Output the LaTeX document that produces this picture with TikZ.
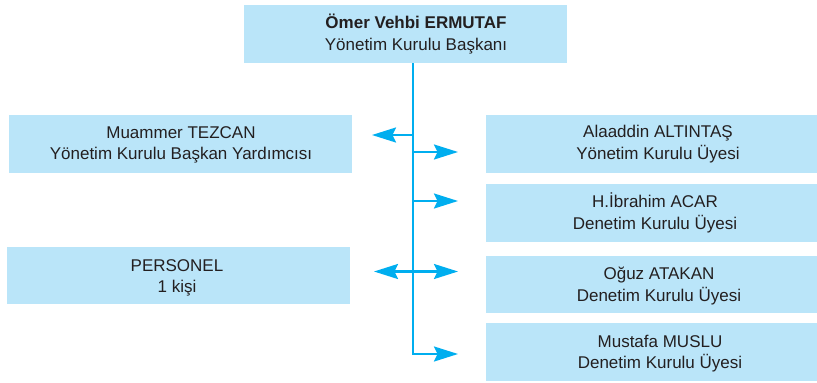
\documentclass[tikz,border=0pt]{standalone}
\usepackage{fontspec}
\setmainfont{Liberation Sans}
\usetikzlibrary{arrows.meta}
\definecolor{boxfill}{RGB}{186,229,249}
\definecolor{linecol}{RGB}{0,174,239}
\definecolor{txtcol}{RGB}{35,31,32}
\tikzset{
  orgbox/.style={rectangle, fill=boxfill, draw=none, inner sep=0pt, anchor=north west},
  orgtxt/.style={anchor=base, inner sep=0pt, text=txtcol, font=\fontsize{17}{21}\selectfont},
  orgbold/.style={orgtxt, font=\fontsize{17}{21}\selectfont\bfseries},
  trunk/.style={draw=linecol, line width=2.2pt},
  orgarrow/.style={draw=linecol, line width=2.2pt, -{Stealth[length=24pt,width=15pt,inset=3.5pt]}}
}
\begin{document}
\begin{tikzpicture}[x=1pt,y=-1pt]
\useasboundingbox (0,0) rectangle (817,383);
% boxes
\node[orgbox, minimum width=323pt, minimum height=58pt] (bTop) at (244,5) {};
\node[orgbox, minimum width=343pt, minimum height=58pt] (bMua) at (9,115) {};
\node[orgbox, minimum width=343pt, minimum height=57pt] (bPer) at (7,247) {};
\node[orgbox, minimum width=331pt, minimum height=58pt] (bAla) at (486,115) {};
\node[orgbox, minimum width=331pt, minimum height=58pt] (bIbr) at (486,184) {};
\node[orgbox, minimum width=331pt, minimum height=57pt] (bOgu) at (486,256) {};
\node[orgbox, minimum width=331pt, minimum height=58pt] (bMus) at (486,323) {};
% texts
\node[orgbold] (tTop1) at (416,28) {Ömer Vehbi ERMUTAF};
\node[orgtxt]  (tTop2) at (416,50) {Yönetim Kurulu Başkanı};
\node[orgtxt] (tMua1) at (181,138) {Muammer TEZCAN};
\node[orgtxt] (tMua2) at (181,159) {Yönetim Kurulu Başkan Yardımcısı};
\node[orgtxt] (tPer1) at (177,271) {PERSONEL};
\node[orgtxt] (tPer2) at (177,292) {1 kişi};
\node[orgtxt] (tAla1) at (658,137) {Alaaddin ALTINTAŞ};
\node[orgtxt] (tAla2) at (658,159) {Yönetim Kurulu Üyesi};
\node[orgtxt] (tIbr1) at (655,207) {H.İbrahim ACAR};
\node[orgtxt] (tIbr2) at (655,229) {Denetim Kurulu Üyesi};
\node[orgtxt] (tOgu1) at (659,279) {Oğuz ATAKAN};
\node[orgtxt] (tOgu2) at (659,301) {Denetim Kurulu Üyesi};
\node[orgtxt] (tMus1) at (660,347) {Mustafa MUSLU};
\node[orgtxt] (tMus2) at (660,368) {Denetim Kurulu Üyesi};
% connector coordinates
\coordinate (jTop) at (413,63);
\coordinate (jMua) at (413,135);
\coordinate (jAla) at (413,152);
\coordinate (jIbr) at (413,201);
\coordinate (jPO) at (413,271.5);
\coordinate (jBot) at (413,354);
\coordinate (eMua) at (372,135);
\coordinate (eAla) at (458,152);
\coordinate (eIbr) at (458,201);
\coordinate (ePer) at (374,271.5);
\coordinate (eOgu) at (458,271.5);
\coordinate (eMus) at (458,354);
% connectors
\draw[trunk] (jTop) -- (jBot);
\draw[orgarrow] (jMua) -- (eMua);
\draw[orgarrow] (jAla) -- (eAla);
\draw[orgarrow] (jIbr) -- (eIbr);
\draw[orgarrow] (jPO) -- (ePer);
\draw[orgarrow] (jPO) -- (eOgu);
\draw[orgarrow, line join=miter] ([yshift=-1.1pt]jBot) -- (jBot) -- (eMus);
\end{tikzpicture}
\end{document}
